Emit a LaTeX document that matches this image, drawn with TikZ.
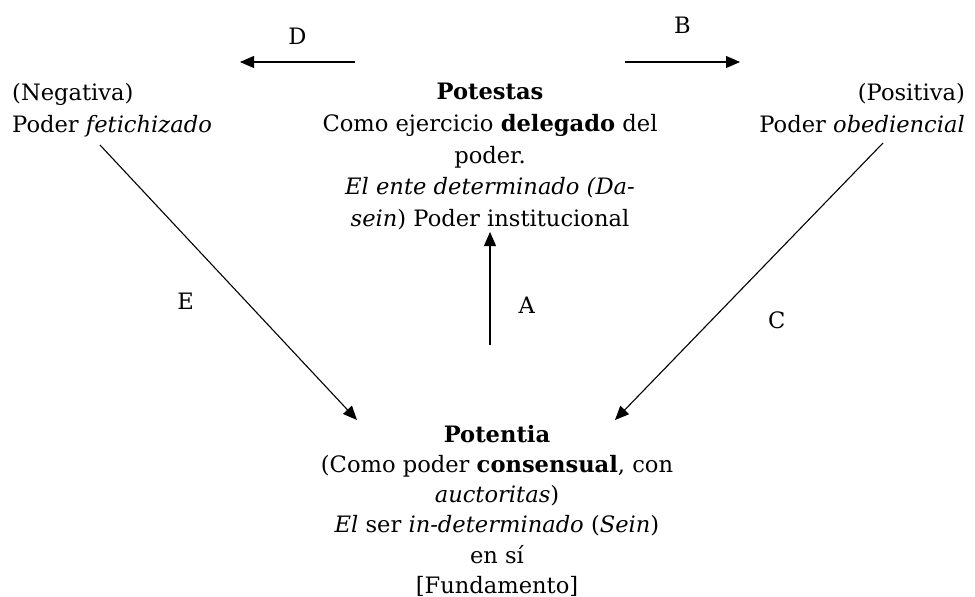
\documentclass[tikz,border=0pt]{standalone}
\usepackage{fontspec}
\setmainfont{DejaVu Serif}
\usetikzlibrary{arrows.meta}

\begin{document}
\begin{tikzpicture}[x=1pt,y=-1pt,
  txt/.style={font=\fontsize{22.6}{31.7}\selectfont, inner sep=0pt},
  lbl/.style={font=\fontsize{22.6}{31.7}\selectfont, inner sep=0pt},
  arr/.style={-{Triangle[length=14pt,width=12pt]}, line width=1.1pt}]
  \useasboundingbox (0,0) rectangle (975,597);

  % three power nodes
  \node[txt, align=left, anchor=north west] (neg) at (12,83) {(Negativa)\\Poder \textit{fetichizado}};
  \node[txt, align=right, anchor=north east] (pos) at (965,83) {(Positiva)\\Poder \textit{obediencial}};
  \node[txt, align=center, anchor=north] (potestas) at (490,83)
    {\textbf{Potestas}\\Como ejercicio \textbf{delegado} del\\poder.\\\textit{El ente determinado (Da-}\\\textit{sein}) Poder institucional};
  \node[txt, font=\fontsize{22.6}{30.2}\selectfont, align=center, anchor=north] (potentia) at (497,425)
    {\textbf{Potentia}\\(Como poder \textbf{consensual}, con\\\textit{auctoritas})\\\textit{El} ser \textit{in-determinado} (\textit{Sein})\\en sí\\{[Fundamento]}};

  % arrow ends
  \coordinate (dS) at (355,62);  \coordinate (dE) at (240,62);
  \coordinate (bS) at (625,62);  \coordinate (bE) at (740,62);
  \coordinate (aS) at (490,345); \coordinate (aE) at (490,232);
  \coordinate (eS) at (100,145); \coordinate (eE) at (357,420);
  \coordinate (cS) at (883,143); \coordinate (cE) at (615,420);

  \draw[arr] (dS) -- node[lbl, above=17pt] {D} (dE);
  \draw[arr] (bS) -- node[lbl, above=28pt] {B} (bE);
  \draw[arr] (aS) -- node[lbl, pos=0.35, right=28pt] {A} (aE);
  \draw[arr] (eS) -- node[lbl, pos=0.57, left=52pt] {E} (eE);
  \draw[arr] (cS) -- node[lbl, pos=0.64, right=56pt] {C} (cE);
\end{tikzpicture}
\end{document}
